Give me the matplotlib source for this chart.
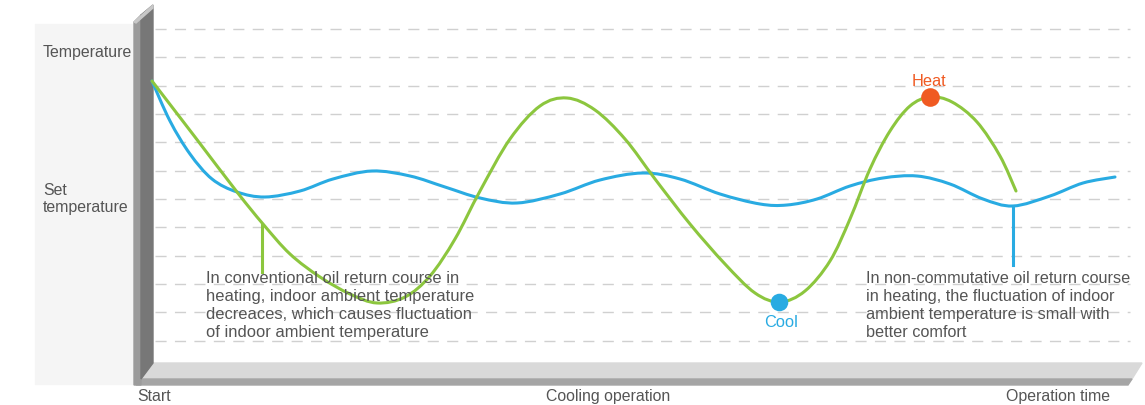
import matplotlib.pyplot as plt
from matplotlib.patches import Polygon, Rectangle, PathPatch
from matplotlib.path import Path

plt.rcParams['font.family'] = ['Liberation Sans', 'DejaVu Sans']

# chart units: x = operation time, y = temperature (drawn downward, like the picture)
conv_time = [152, 195, 237, 263, 290, 320, 350, 377, 405, 430, 455, 480, 510, 540,
             567, 595, 625, 655, 690, 725, 755, 780, 805, 830, 850, 870, 890, 910,
             930, 952, 977, 1000, 1016]
conv_temp = [82, 138, 193, 225, 255, 278, 295, 304, 298, 277, 240, 192, 140, 107,
             99, 111, 140, 180, 225, 265, 294, 303, 292, 262, 220, 170, 132, 107,
             98, 103, 123, 157, 192]

new_time = [152, 170, 190, 212, 237, 265, 300, 333, 372, 410, 445, 480, 517, 560,
            600, 643, 680, 720, 760, 787, 817, 850, 883, 917, 950, 983, 1013, 1050,
            1083, 1115]
new_temp = [82, 122, 155, 180, 193, 198, 192, 180, 172, 177, 188, 199, 204, 195,
            181, 174, 180, 195, 205, 206, 200, 187, 179, 177, 185, 200, 207, 197,
            184, 178]

grid_levels = [30, 58, 87, 115, 143, 172, 200, 228, 257, 285, 313, 342]

heat_point = (930, 98)
cool_point = (779, 303)
conv_marker = (262, 226, 273)   # x, curve y, text y
new_marker = (1013, 207, 266)

GREEN = '#8cc63e'
BLUE = '#29abe2'
ORANGE = '#f05a22'
TXT = '#555555'


def smooth_curve(xs, ys):
    # bezier path through the read points (catmull-rom handles)
    pts = list(zip(xs, ys))
    n = len(pts)
    verts = [pts[0]]
    codes = [Path.MOVETO]
    for i in range(n - 1):
        p0 = pts[i - 1] if i > 0 else pts[i]
        p1 = pts[i]
        p2 = pts[i + 1]
        p3 = pts[i + 2] if i + 2 < n else pts[i + 1]
        c1 = (p1[0] + (p2[0] - p0[0]) / 6, p1[1] + (p2[1] - p0[1]) / 6)
        c2 = (p2[0] - (p3[0] - p1[0]) / 6, p2[1] - (p3[1] - p1[1]) / 6)
        verts += [c1, c2, p2]
        codes += [Path.CURVE4] * 3
    return Path(verts, codes)


fig = plt.figure(figsize=(11.45, 4.06), dpi=100)
ax = fig.add_axes([0, 0, 1, 1])
ax.set_xlim(0, 1145)
ax.set_ylim(406, 0)
ax.axis('off')

# left label panel
ax.add_patch(Rectangle((35, 25), 100, 360, color='#f5f5f5', zorder=0))

# dashed grid
for g in grid_levels:
    ax.plot([155, 1130], [g, g], color='#d0d0d0', lw=1, dashes=(8, 6), zorder=1)

# 3d wall and floor
ax.add_patch(Polygon([(152, 364), (1142, 364), (1132, 380), (140, 380)],
                     color='#d9d9d9', zorder=2))
ax.add_patch(Polygon([(140, 380), (1132, 380), (1128, 386), (136, 386)],
                     color='#a5a5a5', zorder=2))
ax.add_patch(Polygon([(134, 23), (141, 16), (141, 386), (134, 386)],
                     color='#9b9b9b', zorder=3))
ax.add_patch(Polygon([(141, 16), (153, 6), (153, 364), (141, 380)],
                     color='#777777', zorder=3))
ax.add_patch(Polygon([(134, 23), (153, 6), (153, 9), (136, 24)],
                     color='#c8c8c8', zorder=3))

# curves
ax.add_patch(PathPatch(smooth_curve(new_time, new_temp), fill=False,
                       edgecolor=BLUE, lw=2.2, zorder=4, capstyle='round'))
ax.add_patch(PathPatch(smooth_curve(conv_time, conv_temp), fill=False,
                       edgecolor=GREEN, lw=2.2, zorder=5, capstyle='round'))

ax.plot([conv_marker[0]] * 2, conv_marker[1:], color=GREEN, lw=2.2, zorder=5)
ax.plot([new_marker[0]] * 2, new_marker[1:], color=BLUE, lw=2.2, zorder=5)

ax.scatter(*heat_point, s=180, color=ORANGE, zorder=6, linewidths=0)
ax.scatter(*cool_point, s=160, color=BLUE, zorder=6, linewidths=0)
ax.text(heat_point[0] - 1, heat_point[1] - 17, 'Heat', color=ORANGE, fontsize=11.8,
        ha='center', va='center')
ax.text(cool_point[0] + 2, cool_point[1] + 20, 'Cool', color=BLUE, fontsize=11.8,
        ha='center', va='center')

# annotations
ax.text(206, 271,
        'In conventional oil return course in\nheating, indoor ambient temperature\n'
        'decreaces, which causes fluctuation\nof indoor ambient temperature',
        color=TXT, fontsize=11.9, ha='left', va='top', linespacing=1.24, zorder=7)
ax.text(866, 271,
        'In non-commutative oil return course\nin heating, the fluctuation of indoor\n'
        'ambient temperature is small with\nbetter comfort',
        color=TXT, fontsize=11.7, ha='left', va='top', linespacing=1.25, zorder=7)

# axis labels
ax.text(43, 53, 'Temperature', color=TXT, fontsize=11.4, ha='left', va='center')
ax.text(43, 199, 'Set\ntemperature', color=TXT, fontsize=11.4, ha='left', va='center',
        linespacing=1.2)
ax.text(137, 397, 'Start', color=TXT, fontsize=11.4, ha='left', va='center')
ax.text(608, 397, 'Cooling operation', color=TXT, fontsize=11.4, ha='center', va='center')
ax.text(1110, 397, 'Operation time', color=TXT, fontsize=11.4, ha='right', va='center')

fig.savefig('out.png', dpi=100, facecolor='white')
